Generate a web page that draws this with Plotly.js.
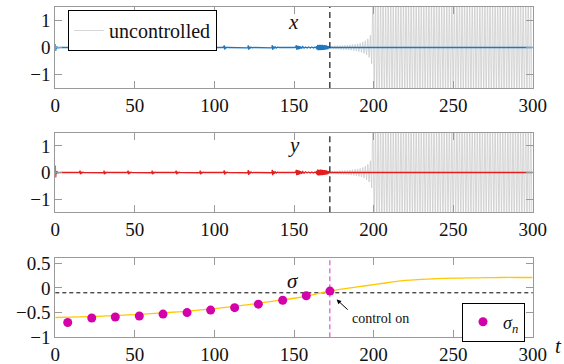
<!DOCTYPE html>
<html>
<head>
<meta charset="utf-8">
<script src="https://cdn.plot.ly/plotly-3.0.1.min.js"></script>
<style>html,body{margin:0;padding:0;background:#fff;}#chart{width:564px;height:364px;}</style>
</head>
<body>
<div id="chart"></div>
<script>
// ---- data ----
const tControl = 172.5;   // "control on" time
const sigmaStar = -0.1;   // dashed reference level in the sigma panel

// controlled trajectories (x: blue, y: red), sampled at the same times
const tCtrl = [
  0,0.25,0.5,0.9,1.4,2.0,2.7,
  14.4,14.9,15.3,15.55,15.8,16.2,16.7,17.3,18.0,
  29.5,30.0,30.4,30.65,30.9,31.3,31.8,32.4,33.1,
  44.6,45.1,45.5,45.75,46.0,46.4,46.9,47.5,48.2,
  59.7,60.2,60.6,60.85,61.1,61.5,62.0,62.6,63.3,
  74.8,75.3,75.7,75.95,76.2,76.6,77.1,77.7,78.4,
  89.9,90.4,90.8,91.05,91.3,91.7,92.2,92.8,93.5,
  105.0,105.5,105.9,106.15,106.4,106.8,107.3,107.9,108.6,
  120.1,120.6,121.0,121.25,121.5,121.9,122.4,123.0,123.7,124.5,
  135.2,135.7,136.1,136.35,136.6,137.0,137.5,138.1,138.8,139.6,140.5,
  150.3,150.8,151.2,151.45,151.7,152.0,152.3,152.6,152.9,153.3,153.7,154.2,154.8,155.5,156.3,157.2,158.2,159.2,160.2,161.2,162.2,163.2,
  164.0,164.3,164.6,164.9,165.2,165.5,165.8,166.1,166.4,166.7,167.0,167.3,167.6,167.9,168.2,168.5,168.8,169.1,169.4,169.7,170.0,170.3,170.6,170.9,171.2,171.5,171.8,172.1,172.5,
  300
];
const xCtrl = [
  0.13,-0.13,0.04,-0.03,0.015,-0.01,0,
  0,0.015,-0.012,0.075,-0.075,0.02,-0.02,0.012,0,
  0,0.015,-0.012,0.075,-0.07,0.02,-0.02,0.012,0,
  0,0.015,-0.012,0.075,-0.075,0.022,-0.02,0.012,0,
  0,0.015,-0.012,0.075,-0.07,0.02,-0.02,0.012,0,
  0,0.015,-0.012,0.075,-0.075,0.022,-0.02,0.012,0,
  0,0.015,-0.012,0.075,-0.075,0.022,-0.02,0.012,0,
  0,0.015,-0.012,0.08,-0.075,0.024,-0.02,0.012,0,
  0,0.015,-0.012,0.08,-0.08,0.03,-0.025,0.015,-0.01,0,
  0,0.015,-0.012,0.085,-0.085,0.04,-0.035,0.025,-0.02,0.01,0,
  0,0.015,-0.01,0.085,-0.085,0.07,-0.075,0.06,-0.065,0.05,-0.05,0.04,-0.035,0.03,-0.025,0.02,-0.02,0.02,-0.02,0.02,-0.02,0.02,
  -0.02,0.05,-0.08,0.1,-0.1,0.09,-0.1,0.1,-0.09,0.1,-0.1,0.09,-0.09,0.1,-0.09,0.08,-0.09,0.09,-0.08,0.08,-0.07,0.08,-0.07,0.06,-0.06,0.05,-0.04,0.03,0,
  0
];
const yCtrl = [
  0.26,-0.19,0.05,-0.04,0.02,-0.01,0,
  0,0.012,-0.01,0.07,-0.065,0.02,-0.02,0.01,0,
  0,0.012,-0.01,0.07,-0.065,0.02,-0.02,0.01,0,
  0,0.012,-0.01,0.072,-0.065,0.02,-0.02,0.01,0,
  0,0.012,-0.01,0.07,-0.065,0.02,-0.02,0.01,0,
  0,0.012,-0.01,0.072,-0.068,0.02,-0.02,0.01,0,
  0,0.012,-0.01,0.075,-0.07,0.022,-0.02,0.01,0,
  0,0.012,-0.01,0.08,-0.075,0.025,-0.02,0.01,0,
  0,0.012,-0.01,0.095,-0.09,0.04,-0.035,0.02,-0.01,0,
  0,0.015,-0.01,0.1,-0.1,0.05,-0.045,0.03,-0.02,0.01,0,
  0,0.015,-0.01,0.1,-0.1,0.09,-0.09,0.08,-0.08,0.07,-0.06,0.05,-0.045,0.04,-0.03,0.025,-0.02,0.02,-0.02,0.02,-0.02,0.02,
  -0.02,0.06,-0.09,0.11,-0.11,0.1,-0.11,0.1,-0.1,0.11,-0.1,0.1,-0.1,0.1,-0.09,0.09,-0.09,0.09,-0.08,0.08,-0.08,0.08,-0.07,0.06,-0.06,0.05,-0.04,0.03,0,
  0
];

// uncontrolled trajectories (grey), from control-on time to the end
const tUnc = [
  172.4,173.2,174,174.8,175.6,176.4,177.2,178,178.8,179.6,
  180.4,181.2,182,182.8,183.6,184.4,185.2,186,186.8,187.6,
  188.4,189.2,190,190.8,191.6,192.4,193.2,194,194.8,195.6,
  196.4,197.2,198,198.8,199.6,
  200.4,201.2,202,202.8,203.6, 204.4,205.2,206,206.8,207.6,
  208.4,209.2,210,210.8,211.6, 212.4,213.2,214,214.8,215.6,
  216.4,217.2,218,218.8,219.6, 220.4,221.2,222,222.8,223.6,
  224.4,225.2,226,226.8,227.6, 228.4,229.2,230,230.8,231.6,
  232.4,233.2,234,234.8,235.6, 236.4,237.2,238,238.8,239.6,
  240.4,241.2,242,242.8,243.6, 244.4,245.2,246,246.8,247.6,
  248.4,249.2,250,250.8,251.6, 252.4,253.2,254,254.8,255.6,
  256.4,257.2,258,258.8,259.6, 260.4,261.2,262,262.8,263.6,
  264.4,265.2,266,266.8,267.6, 268.4,269.2,270,270.8,271.6,
  272.4,273.2,274,274.8,275.6, 276.4,277.2,278,278.8,279.6,
  280.4,281.2,282,282.8,283.6, 284.4,285.2,286,286.8,287.6,
  288.4,289.2,290,290.8,291.6, 292.4,293.2,294,294.8,295.6,
  296.4,297.2,298,298.8,299.6
];
const xUnc = [
  0.06,-0.06,0.06,-0.06,0.065,-0.065,0.07,-0.07,0.07,-0.075,
  0.075,-0.08,0.08,-0.085,0.09,-0.09,0.1,-0.1,0.11,-0.115,
  0.12,-0.13,0.14,-0.15,0.16,-0.18,0.2,-0.22,0.25,-0.28,
  0.32,-0.37,0.45,-0.6,2.2,
  -2.1,2.3,-2.2,2.1,-2.3, 2.2,-2.1,2.3,-2.2,2.1,
  -2.3,2.2,-2.1,2.3,-2.2, 2.1,-2.3,2.2,-2.1,2.3,
  -2.2,2.1,-2.3,2.2,-2.1, 2.3,-2.2,2.1,-2.3,2.2,
  -2.1,2.3,-2.2,2.1,-2.3, 2.2,-2.1,2.3,-2.2,2.1,
  -2.3,2.2,-2.1,2.3,-2.2, 2.1,-2.3,2.2,-2.1,2.3,
  -2.2,2.1,-2.3,2.2,-2.1, 2.3,-2.2,2.1,-2.3,2.2,
  -2.1,2.3,-2.2,2.1,-2.3, 2.2,-2.1,2.3,-2.2,2.1,
  -2.3,2.2,-2.1,2.3,-2.2, 2.1,-2.3,2.2,-2.1,2.3,
  -2.2,2.1,-2.3,2.2,-2.1, 2.3,-2.2,2.1,-2.3,2.2,
  -2.1,2.3,-2.2,2.1,-2.3, 2.2,-2.1,2.3,-2.2,2.1,
  -2.3,2.2,-2.1,2.3,-2.2, 2.1,-2.3,2.2,-2.1,2.3,
  -2.2,2.1,-2.3,2.2,-2.1, 2.3,-2.2,2.1,-2.3,2.2,
  -2.1,2.3,-2.2,2.1,-2.3
];
const yUnc = [
  0.05,-0.05,0.055,-0.055,0.06,-0.06,0.065,-0.065,0.07,-0.07,
  0.075,-0.075,0.08,-0.08,0.085,-0.09,0.095,-0.1,0.105,-0.11,
  0.12,-0.125,0.135,-0.145,0.155,-0.17,0.19,-0.21,0.24,-0.27,
  0.31,-0.36,0.44,-0.58,2.3,
  -2.2,2.1,-2.3,2.2,-2.1, 2.3,-2.2,2.1,-2.3,2.2,
  -2.1,2.3,-2.2,2.1,-2.3, 2.2,-2.1,2.3,-2.2,2.1,
  -2.3,2.2,-2.1,2.3,-2.2, 2.1,-2.3,2.2,-2.1,2.3,
  -2.2,2.1,-2.3,2.2,-2.1, 2.3,-2.2,2.1,-2.3,2.2,
  -2.1,2.3,-2.2,2.1,-2.3, 2.2,-2.1,2.3,-2.2,2.1,
  -2.3,2.2,-2.1,2.3,-2.2, 2.1,-2.3,2.2,-2.1,2.3,
  -2.2,2.1,-2.3,2.2,-2.1, 2.3,-2.2,2.1,-2.3,2.2,
  -2.1,2.3,-2.2,2.1,-2.3, 2.2,-2.1,2.3,-2.2,2.1,
  -2.3,2.2,-2.1,2.3,-2.2, 2.1,-2.3,2.2,-2.1,2.3,
  -2.2,2.1,-2.3,2.2,-2.1, 2.3,-2.2,2.1,-2.3,2.2,
  -2.1,2.3,-2.2,2.1,-2.3, 2.2,-2.1,2.3,-2.2,2.1,
  -2.3,2.2,-2.1,2.3,-2.2, 2.1,-2.3,2.2,-2.1,2.3,
  -2.2,2.1,-2.3,2.2,-2.1
];

// sigma(t) curve (yellow)
const tSigma = [0,10,20,30,40,50,60,70,80,90,100,110,120,130,140,150,160,170,175,180,190,200,210,220,230,240,250,260,270,280,290,300];
const sigmaCurve = [-0.60,-0.59,-0.58,-0.57,-0.555,-0.54,-0.52,-0.50,-0.48,-0.45,-0.42,-0.385,-0.345,-0.30,-0.255,-0.21,-0.15,-0.08,-0.05,-0.025,0.02,0.065,0.11,0.15,0.17,0.185,0.195,0.20,0.205,0.21,0.21,0.21];

// sampled sigma_n (magenta dots)
const tN = [7.8,22.9,37.7,52.8,67.7,82.8,97.6,112.7,127.6,142.9,157.7,172.6];
const sigmaN = [-0.70,-0.61,-0.59,-0.57,-0.53,-0.50,-0.45,-0.40,-0.33,-0.25,-0.16,-0.065];

// ticks
const xTicks = [0,50,100,150,200,250,300];
const yTicksXY = [-1,0,1];
const yTicksSigma = [-1,-0.5,0,0.5];

// ---- styling ----
const W = 564, H = 364;
const serif = "Liberation Serif, DejaVu Serif, serif";
const frame = '#9a9a9a';
const px = v => v / W;
const py = v => 1 - v / H;

function xa(anchor) {
  return {
    anchor: anchor, domain: [px(55.3), px(532.7)], range: [0, 300],
    tickvals: xTicks, ticks: 'inside', ticklen: 7, tickwidth: 1, tickcolor: frame,
    showline: true, linecolor: frame, linewidth: 1, mirror: 'ticks',
    showgrid: false, zeroline: false,
    tickfont: {family: serif, size: 19, color: '#111'}
  };
}
function ya(anchor, top, bottom, range, ticks) {
  return {
    anchor: anchor, domain: [py(bottom), py(top)], range: range,
    tickvals: ticks, ticks: 'inside', ticklen: 7, tickwidth: 1, tickcolor: frame,
    showline: true, linecolor: frame, linewidth: 1, mirror: 'ticks',
    showgrid: false, zeroline: false,
    tickfont: {family: serif, size: 19, color: '#111'}
  };
}

const grey = 'rgb(200,200,200)';
const traces = [
  {x: tUnc, y: xUnc, xaxis: 'x', yaxis: 'y', mode: 'lines', name: 'uncontrolled',
   line: {color: grey, width: 0.75}, showlegend: true, legend: 'legend'},
  {x: tCtrl, y: xCtrl, xaxis: 'x', yaxis: 'y', mode: 'lines',
   line: {color: 'rgb(31,119,190)', width: 1.3}, showlegend: false},
  {x: tUnc, y: yUnc, xaxis: 'x2', yaxis: 'y2', mode: 'lines',
   line: {color: grey, width: 0.75}, showlegend: false},
  {x: tCtrl, y: yCtrl, xaxis: 'x2', yaxis: 'y2', mode: 'lines',
   line: {color: 'rgb(228,30,30)', width: 1.3}, showlegend: false},
  {x: tSigma, y: sigmaCurve, xaxis: 'x3', yaxis: 'y3', mode: 'lines', line: {shape: 'spline',
   color: 'rgb(255,200,0)', width: 1.3}, showlegend: false},
  {x: tN, y: sigmaN, xaxis: 'x3', yaxis: 'y3', mode: 'markers', name: '<i>σ</i><sub><i>n</i></sub>',
   marker: {color: 'rgb(212,0,170)', size: 9}, showlegend: true, legend: 'legend2'}
];

function label(xp, yp, text, size) {
  return {xref: 'paper', yref: 'paper', x: px(xp), y: py(yp), xanchor: 'center', yanchor: 'middle',
          text: text, showarrow: false, font: {family: serif, size: size, color: '#111'}};
}

const layout = {
  width: W, height: H,
  margin: {l: 0, r: 0, t: 0, b: 0},
  paper_bgcolor: '#fff', plot_bgcolor: '#fff',
  font: {family: serif, size: 19, color: '#111'},
  xaxis: xa('y'), yaxis: ya('x', 7, 88, [-1.5, 1.5], yTicksXY),
  xaxis2: xa('y2'), yaxis2: ya('x2', 132.7, 212.3, [-1.5, 1.5], yTicksXY),
  xaxis3: xa('y3'), yaxis3: ya('x3', 257.7, 337.3, [-1, 0.61], yTicksSigma),
  legend: {x: px(68), y: py(10), xanchor: 'left', yanchor: 'top',
           bgcolor: '#fff', bordercolor: '#000', borderwidth: 1,
           font: {family: serif, size: 20, color: '#111'}},
  legend2: {x: px(462), y: py(302.5), xanchor: 'left', yanchor: 'top',
           bgcolor: '#fff', bordercolor: '#000', borderwidth: 1,
           font: {family: serif, size: 18, color: '#111'}},
  shapes: [
    {type: 'line', xref: 'x', yref: 'y domain', x0: tControl, x1: tControl, y0: 0, y1: 1,
     line: {color: '#444', width: 1.5, dash: '6px,4px'}, layer: 'above'},
    {type: 'line', xref: 'x2', yref: 'y2 domain', x0: tControl, x1: tControl, y0: 0, y1: 1,
     line: {color: '#444', width: 1.5, dash: '6px,4px'}, layer: 'above'},
    {type: 'line', xref: 'x3 domain', yref: 'y3', x0: 0, x1: 1, y0: sigmaStar, y1: sigmaStar,
     line: {color: '#000', width: 1, dash: '4px,3px'}, layer: 'below'},
    {type: 'line', xref: 'x3', yref: 'y3 domain', x0: tControl, x1: tControl, y0: 0, y1: 1,
     line: {color: 'rgb(228,100,210)', width: 1.3, dash: '5px,3px'}, layer: 'below'}
  ],
  annotations: [
    label(293.5, 22, '<i>x</i>', 21),
    label(293.5, 145, '<i>y</i>', 21),
    label(292.5, 281, '<i>σ</i>', 21),
    label(558, 346, '<i>t</i>', 21),
    label(381, 318.5, 'control on', 14),
    {xref: 'x3', yref: 'y3', x: tControl + 4.3, y: sigmaStar - 0.135, text: ' ', showarrow: true,
     ax: 13, ay: 12, arrowhead: 2, arrowsize: 0.9, arrowwidth: 1, arrowcolor: '#000',
     font: {size: 4}}
  ]
};

Plotly.newPlot('chart', traces, layout, {staticPlot: true, displayModeBar: false});
</script>
</body>
</html>
